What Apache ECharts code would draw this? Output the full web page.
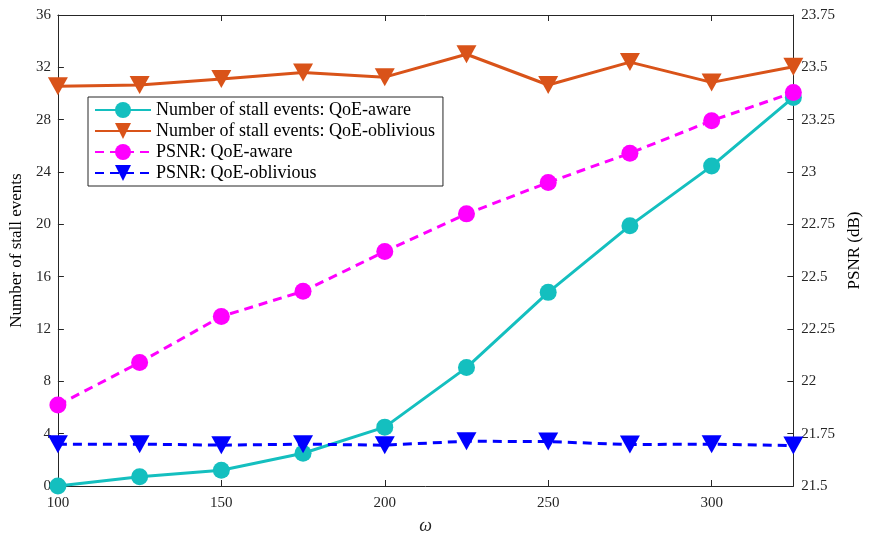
<!DOCTYPE html>
<html><head><meta charset="utf-8">
<script src="https://cdn.jsdelivr.net/npm/echarts@6/dist/echarts.min.js"></script>
<style>html,body{margin:0;padding:0;background:#fff}#c{width:871px;height:540px}</style>
</head><body><div id="c"></div>
<script>
const omega = [100,125,150,175,200,225,250,275,300,325];
const stallAware = [0, 0.7, 1.2, 2.5, 4.5, 9.05, 14.8, 19.9, 24.45, 29.7];
const stallOblivious = [30.55, 30.65, 31.1, 31.6, 31.25, 33.0, 30.65, 32.4, 30.85, 32.05];
const psnrAware = [21.887, 22.09, 22.31, 22.43, 22.62, 22.80, 22.95, 23.09, 23.245, 23.38];
const psnrOblivious = [21.70, 21.70, 21.695, 21.70, 21.695, 21.714, 21.712, 21.698, 21.70, 21.693];
const names = ['Number of stall events: QoE-aware','Number of stall events: QoE-oblivious','PSNR: QoE-aware','PSNR: QoE-oblivious'];

const pair = a => a.map((v,i)=>[omega[i], v]);
const font = 'Liberation Serif';
const txt = '#262626';
const chart = echarts.init(document.getElementById('c'));
const axisCommon = {
  axisLine:{show:true, lineStyle:{color:txt, width:1}},
  axisTick:{show:true, inside:true, length:6, lineStyle:{color:txt}},
  splitLine:{show:false},
  axisLabel:{fontFamily:font, fontSize:15, color:txt}
};
chart.setOption({
  animation:false,
  grid:{left:55, right:71, top:15, bottom:48, containLabel:false},
  legend:{
    orient:'vertical', left:88, top:97, padding:[4,8,4,6],
    itemWidth:56, itemHeight:20, itemGap:3,
    backgroundColor:'#fff', borderColor:'#262626', borderWidth:1,
    textStyle:{fontFamily:font, fontSize:18, color:'#000'},
    data:names, symbolRotate:'inherit'
  },
  xAxis:[
    Object.assign({}, axisCommon, {type:'value', min:100, max:325, interval:50,
      axisLabel:Object.assign({}, axisCommon.axisLabel, {showMaxLabel:false, margin:10}),
      name:'ω', nameLocation:'middle', nameGap:31,
      nameTextStyle:{fontFamily:font, fontStyle:'italic', fontSize:18, color:txt}}),
    Object.assign({}, axisCommon, {type:'value', position:'top', min:100, max:325, interval:50,
      axisLabel:{show:false}})
  ],
  yAxis:[
    Object.assign({}, axisCommon, {type:'value', min:0, max:36, interval:4,
      axisLabel:Object.assign({}, axisCommon.axisLabel, {margin:7}),
      name:'Number of stall events', nameLocation:'middle', nameGap:30,
      nameTextStyle:{fontFamily:font, fontSize:17, color:'#000'}}),
    Object.assign({}, axisCommon, {type:'value', position:'right', min:21.5, max:23.75, interval:0.25,
      axisLabel:Object.assign({}, axisCommon.axisLabel, {margin:8}),
      name:'PSNR (dB)', nameLocation:'middle', nameGap:52, nameRotate:90,
      nameTextStyle:{fontFamily:font, fontSize:17, color:'#000'}})
  ],
  series:[
    {name:names[0], type:'line', yAxisIndex:0, data:pair(stallAware), symbol:'circle', symbolSize:17,
     itemStyle:{color:'#14BFBF'}, lineStyle:{color:'#14BFBF', width:3}, z:4},
    {name:names[1], type:'line', yAxisIndex:0, data:pair(stallOblivious), symbol:'triangle', symbolRotate:180, symbolSize:[20,18],
     itemStyle:{color:'#D95319'}, lineStyle:{color:'#D95319', width:3}, z:3},
    {name:names[2], type:'line', yAxisIndex:1, data:pair(psnrAware), symbol:'circle', symbolSize:17,
     itemStyle:{color:'#FF00FF'}, lineStyle:{color:'#FF00FF', width:3, type:[9,6]}, z:5},
    {name:names[3], type:'line', yAxisIndex:1, data:pair(psnrOblivious), symbol:'triangle', symbolRotate:180, symbolSize:[20,18],
     itemStyle:{color:'#0000FF'}, lineStyle:{color:'#0000FF', width:3, type:[9,6]}, z:4}
  ]
});
</script></body></html>
